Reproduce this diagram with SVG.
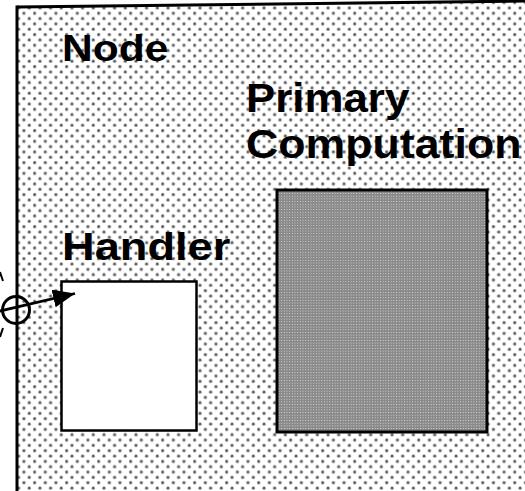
<svg xmlns="http://www.w3.org/2000/svg" width="525" height="491" viewBox="0 0 525 491">
  <style>
    .label { font-family: "Liberation Sans", Arial, sans-serif; font-weight: bold; fill: #000; }
    .edge { stroke: #000; fill: none; }
  </style>
  <defs>
    <!-- sparse halftone dots for the node background -->
    <pattern id="dots" x="0" y="0" width="10.67" height="10.67" patternUnits="userSpaceOnUse">
      <rect width="10.67" height="10.67" fill="#fff"/>
      <circle cx="2.6" cy="2.6" r="1.8" fill="#a8a8a8"/>
      <circle cx="2.6" cy="2.6" r="1.1" fill="#4a4a4a"/>
      <circle cx="7.93" cy="7.93" r="1.8" fill="#a8a8a8"/>
      <circle cx="7.93" cy="7.93" r="1.1" fill="#4a4a4a"/>
    </pattern>
    <!-- fine dense screen for the primary computation block -->
    <pattern id="fine" x="0" y="0" width="2.67" height="2.67" patternUnits="userSpaceOnUse">
      <rect width="2.67" height="2.67" fill="#8a8a8a"/>
      <circle cx="1.33" cy="1.33" r="0.55" fill="#e6e6e6"/>
    </pattern>
    <marker id="arrow" markerWidth="22" markerHeight="18" refX="22" refY="9" orient="auto" markerUnits="userSpaceOnUse">
      <path d="M0,0 L22,9 L0,18 z" fill="#000"/>
    </marker>
  </defs>

  <rect width="525" height="491" fill="#fff"/>

  <!-- node boundary -->
  <g id="node">
    <polygon points="17,7 525,1 525,493 17,493" fill="url(#dots)"/>
    <line class="edge" x1="17" y1="7" x2="525" y2="1" stroke-width="3"/>
    <line class="edge" x1="17" y1="5.5" x2="17" y2="493" stroke-width="3"/>
    <text class="label" transform="translate(62,61) scale(1.15,1)" font-size="37">Node</text>
  </g>

  <g id="primary-computation">
    <rect x="277" y="190" width="210" height="242" fill="url(#fine)" stroke="#000" stroke-width="3"/>
    <text class="label" transform="translate(246,112) scale(1.07,1)" font-size="41">Primary</text>
    <text class="label" transform="translate(246,158) scale(1.09,1)" font-size="41">Computation</text>
  </g>

  <g id="handler">
    <rect x="61.5" y="281.5" width="135" height="149" fill="#fff" stroke="#000" stroke-width="2.5"/>
    <text class="label" transform="translate(62,260) scale(1.19,1)" font-size="38">Handler</text>
  </g>

  <g id="port">
    <circle cx="16" cy="310" r="13.5" fill="none" stroke="#000" stroke-width="3"/>
  </g>

  <g id="connectors">
    <line class="edge" x1="-2" y1="311.5" x2="75" y2="293.5" stroke-width="2.8" marker-end="url(#arrow)"/>
    <line class="edge" x1="0" y1="272" x2="3" y2="281" stroke-width="2"/>
    <line class="edge" x1="3" y1="328" x2="0" y2="337" stroke-width="2"/>
  </g>
</svg>
